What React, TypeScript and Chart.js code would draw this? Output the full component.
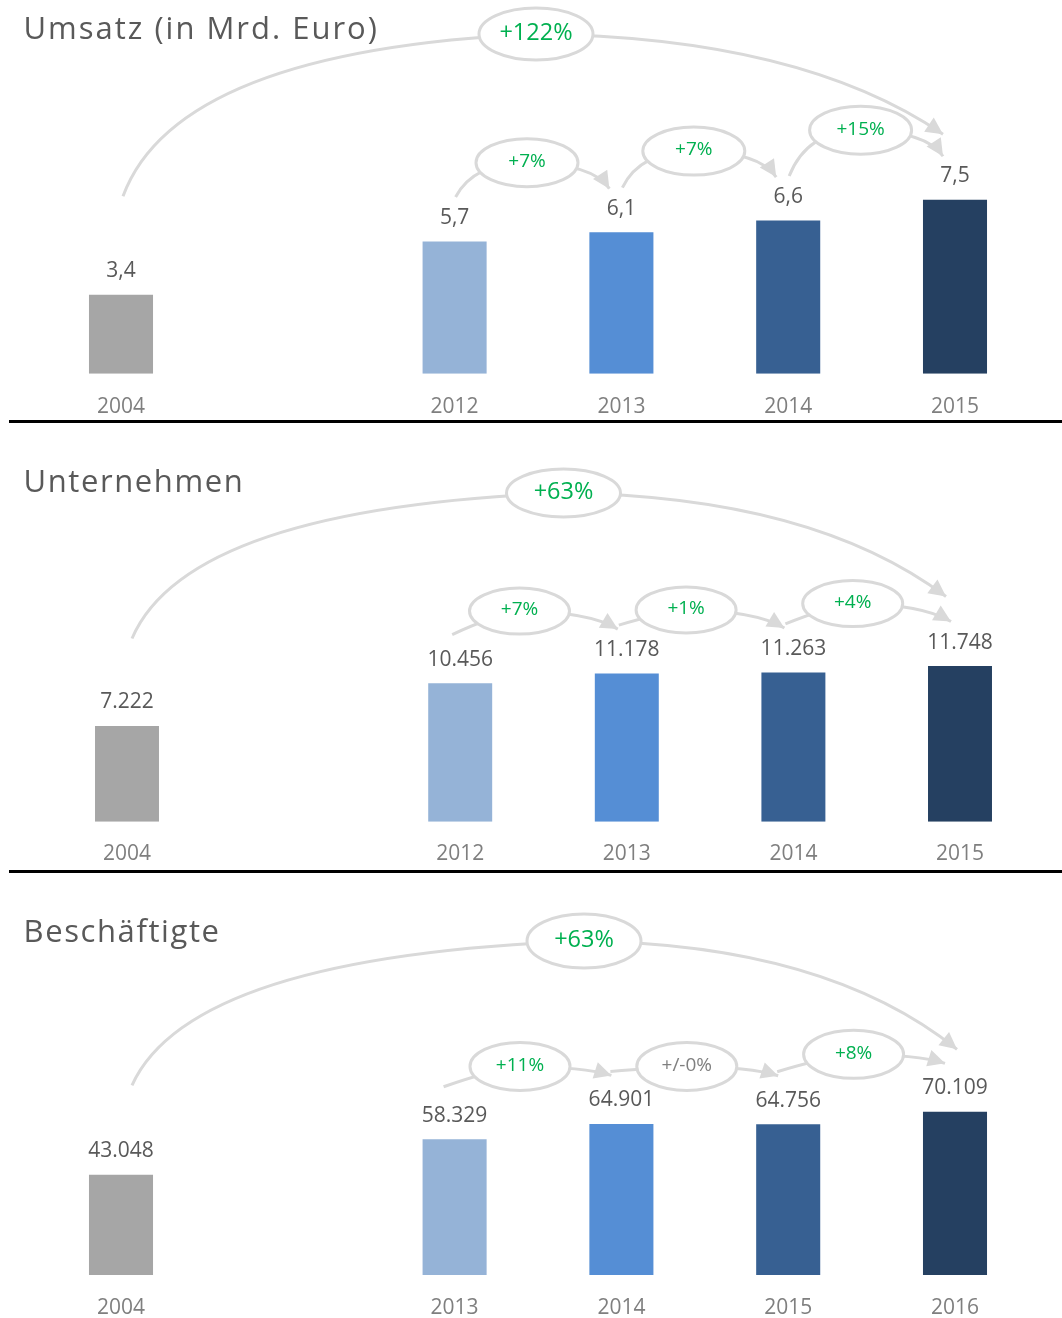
import React, { useEffect, useRef } from 'react';
import { Chart, registerables } from 'chart.js';

Chart.register(...registerables);

// ---------------- data ----------------
const UMSATZ_YEARS = ['2004', '', '2012', '2013', '2014', '2015'];
const UMSATZ_VALUES: (number | null)[] = [3.4, null, 5.7, 6.1, 6.6, 7.5];
const UMSATZ_STEP_CHANGES = ['+7%', '+7%', '+15%'];
const UMSATZ_TOTAL_CHANGE = '+122%';

const UNTERNEHMEN_YEARS = ['2004', '', '2012', '2013', '2014', '2015'];
const UNTERNEHMEN_VALUES: (number | null)[] = [7222, null, 10456, 11178, 11263, 11748];
const UNTERNEHMEN_STEP_CHANGES = ['+7%', '+1%', '+4%'];
const UNTERNEHMEN_TOTAL_CHANGE = '+63%';

const BESCHAEFTIGTE_YEARS = ['2004', '', '2013', '2014', '2015', '2016'];
const BESCHAEFTIGTE_VALUES: (number | null)[] = [43048, null, 58329, 64901, 64756, 70109];
const BESCHAEFTIGTE_STEP_CHANGES = ['+11%', '+/-0%', '+8%'];
const BESCHAEFTIGTE_TOTAL_CHANGE = '+63%';

const BAR_COLORS = ['#A6A6A6', 'rgba(0,0,0,0)', '#95B3D7', '#558ED5', '#376092', '#254061'];

// ---------------- styling ----------------
const FONT = '"Open Sans", "DejaVu Sans", sans-serif';
const ARC_COLOR = '#D9D9D9';
const GREEN = '#00B050';
const GREY_TEXT = '#7F7F7F';
const DARK_TEXT = '#595959';
const LABEL_GAP = 23.5;

interface ArcStyle {
  startDx: number; startGap: number; endDx: number; endGap: number;
  ellDx: number; rx: number; ry: number;
  leftA: number; leftB: number; rightA: number;
  lift?: number; ellY?: number; font: number;
}

interface Panel {
  title: string; titleY: number; letterSpacing: number;
  years: string[]; values: (number | null)[]; steps: string[]; total: string;
  decimals: number; yMax: number;
  top: number; height: number; padLeft: number; padRight: number; padTop: number;
  axisH: number; tickPad: number;
  small: ArcStyle; big: ArcStyle;
}

const PANELS: Panel[] = [
  {
    title: 'Umsatz (in Mrd. Euro)', titleY: 39, letterSpacing: 2,
    years: UMSATZ_YEARS, values: UMSATZ_VALUES, steps: UMSATZ_STEP_CHANGES, total: UMSATZ_TOTAL_CHANGE,
    decimals: 1, yMax: 12,
    top: 0, height: 420, padLeft: 37.6, padRight: 23.6, padTop: 95.3, axisH: 46.3, tickPad: 20.5,
    small: { startDx: 1, startGap: 21, endDx: -12, endGap: 20, ellDx: -11, lift: 46, rx: 51, ry: 24, leftA: 0.25, leftB: 0, rightA: 0.8, font: 19 },
    big: { startDx: 2, startGap: 75, endDx: -12, endGap: 42, ellDx: -2, ellY: 34, rx: 57, ry: 26, leftA: 0.13, leftB: 0.1, rightA: 0.65, font: 23.5 },
  },
  {
    title: 'Unternehmen', titleY: 71.3, letterSpacing: 1.6,
    years: UNTERNEHMEN_YEARS, values: UNTERNEHMEN_VALUES, steps: UNTERNEHMEN_STEP_CHANGES, total: UNTERNEHMEN_TOTAL_CHANGE,
    decimals: 0, yMax: 16000,
    top: 421, height: 449, padLeft: 43.7, padRight: 18.7, padTop: 188.7, axisH: 48.3, tickPad: 19.5,
    small: { startDx: -8, startGap: 25, endDx: -9, endGap: 21, ellDx: -24, lift: 39, rx: 50, ry: 23, leftA: 0.6, leftB: 0.2, rightA: 0.7, font: 19 },
    big: { startDx: 5, startGap: 64, endDx: -14, endGap: 46, ellDx: 20, ellY: 72, rx: 57, ry: 24, leftA: 0.13, leftB: 0.1, rightA: 0.65, font: 23.5 },
  },
  {
    title: 'Beschäftigte', titleY: 69.3, letterSpacing: 1.6,
    years: BESCHAEFTIGTE_YEARS, values: BESCHAEFTIGTE_VALUES, steps: BESCHAEFTIGTE_STEP_CHANGES, total: BESCHAEFTIGTE_TOTAL_CHANGE,
    decimals: 0, yMax: 80000,
    top: 873, height: 445, padLeft: 37.6, padRight: 23.6, padTop: 215.8, axisH: 43, tickPad: 20.3,
    small: { startDx: -11, startGap: 29, endDx: -10, endGap: 25, ellDx: -18, lift: 34, rx: 50, ry: 24, leftA: 0.6, leftB: 0.2, rightA: 0.7, font: 19 },
    big: { startDx: 11, startGap: 66, endDx: 2, endGap: 39, ellDx: 46, ellY: 68, rx: 57, ry: 27, leftA: 0.13, leftB: 0.1, rightA: 0.65, font: 23.5 },
  },
];

function formatDe(v: number, decimals: number): string {
  const fixed = v.toFixed(decimals);
  const parts = fixed.split('.');
  const intPart = parts[0].replace(/\B(?=(\d{3})+(?!\d))/g, '.');
  return parts[1] ? intPart + ',' + parts[1] : intPart;
}

function curveWithArrow(ctx: CanvasRenderingContext2D, x0: number, y0: number, cx: number, cy: number, x1: number, y1: number, arrow: boolean) {
  ctx.beginPath();
  ctx.moveTo(x0, y0);
  ctx.quadraticCurveTo(cx, cy, x1, y1);
  ctx.stroke();
  if (arrow) {
    const ang = Math.atan2(y1 - cy, x1 - cx);
    const L = 17, W = 8.5;
    const bx = x1 - L * Math.cos(ang), by = y1 - L * Math.sin(ang);
    const px = -Math.sin(ang) * W, py = Math.cos(ang) * W;
    ctx.beginPath();
    ctx.moveTo(x1, y1);
    ctx.lineTo(bx + px, by + py);
    ctx.lineTo(bx - px, by - py);
    ctx.closePath();
    ctx.fill();
  }
}

function makePlugin(panel: Panel) {
  return {
    id: 'panelAnnotations',
    afterDatasetsDraw(chart: any) {
      const ctx: CanvasRenderingContext2D = chart.ctx;
      const meta = chart.getDatasetMeta(0);
      ctx.save();

      // title
      ctx.font = `31px ${FONT}`;
      (ctx as any).letterSpacing = `${panel.letterSpacing}px`;
      ctx.fillStyle = DARK_TEXT;
      ctx.textAlign = 'left';
      ctx.textBaseline = 'alphabetic';
      ctx.fillText(panel.title, 23.5, panel.titleY);
      (ctx as any).letterSpacing = '0px';

      // positions of value labels
      const pts: { x: number; ly: number }[] = [];
      const idx: number[] = [];
      panel.values.forEach((v, i) => {
        if (v == null) return;
        const el = meta.data[i];
        pts[i] = { x: el.x, ly: el.y - LABEL_GAP };
        idx.push(i);
      });

      const ellipses: { x: number; y: number; rx: number; ry: number; text: string; font: number }[] = [];
      ctx.strokeStyle = ARC_COLOR;
      ctx.fillStyle = ARC_COLOR;
      ctx.lineWidth = 3;
      ctx.lineCap = 'butt';

      const drawArc = (a: number, b: number, st: ArcStyle, text: string) => {
        const A = pts[a], B = pts[b];
        const sx = A.x + st.startDx, sy = A.ly - st.startGap;
        const ex = B.x + st.endDx, ey = B.ly - st.endGap;
        const cx = (A.x + B.x) / 2 + st.ellDx;
        const cy = st.ellY != null ? st.ellY : Math.min(A.ly, B.ly) - (st.lift || 0);
        curveWithArrow(ctx, sx, sy, sx + st.leftA * (cx - sx), cy + st.leftB * (sy - cy), cx, cy, false);
        curveWithArrow(ctx, cx, cy, cx + st.rightA * (ex - cx), cy + 0.03 * (ey - cy), ex, ey, true);
        ellipses.push({ x: cx, y: cy, rx: st.rx, ry: st.ry, text, font: st.font });
      };

      // big arc from first to last
      drawArc(idx[0], idx[idx.length - 1], panel.big, panel.total);
      // step arcs
      for (let k = 1; k < idx.length - 1; k++) {
        drawArc(idx[k], idx[k + 1], panel.small, panel.steps[k - 1]);
      }

      ellipses.forEach((e) => {
        ctx.beginPath();
        ctx.ellipse(e.x, e.y, e.rx, e.ry, 0, 0, Math.PI * 2);
        ctx.fillStyle = '#FFFFFF';
        ctx.fill();
        ctx.strokeStyle = ARC_COLOR;
        ctx.lineWidth = 3;
        ctx.stroke();
        ctx.font = `${e.font}px ${FONT}`;
        ctx.fillStyle = e.text.startsWith('+/-') ? GREY_TEXT : GREEN;
        ctx.textAlign = 'center';
        ctx.textBaseline = 'middle';
        ctx.fillText(e.text, e.x, e.y - 1);
      });

      // value labels
      ctx.font = `21px ${FONT}`;
      ctx.fillStyle = DARK_TEXT;
      ctx.textAlign = 'center';
      ctx.textBaseline = 'middle';
      idx.forEach((i) => {
        ctx.fillText(formatDe(panel.values[i] as number, panel.decimals), pts[i].x, pts[i].ly);
      });

      ctx.restore();
    },
  };
}

function PanelChart({ panel }: { panel: Panel }) {
  const ref = useRef<HTMLCanvasElement | null>(null);
  useEffect(() => {
    if (!ref.current) return;
    const chart = new Chart(ref.current, {
      type: 'bar',
      data: {
        labels: panel.years,
        datasets: [{
          data: panel.values as any,
          backgroundColor: BAR_COLORS,
          barPercentage: 0.384,
          categoryPercentage: 1,
          borderWidth: 0,
        }],
      },
      options: {
        animation: false,
        responsive: false,
        maintainAspectRatio: false,
        layout: { padding: { left: panel.padLeft, right: panel.padRight, top: panel.padTop, bottom: 0 } },
        plugins: {
          legend: { display: false },
          tooltip: { enabled: false },
          title: { display: false },
        },
        scales: {
          x: {
            grid: { display: false, drawTicks: false, tickLength: 0 },
            border: { display: false },
            ticks: {
              color: GREY_TEXT,
              font: { family: FONT, size: 21, lineHeight: 1.2 },
              padding: panel.tickPad,
              maxRotation: 0,
              autoSkip: false,
            },
            afterFit: (scale: any) => { scale.height = panel.axisH; },
          },
          y: { display: false, min: 0, max: panel.yMax },
        },
      },
      plugins: [makePlugin(panel)],
    } as any);
    return () => chart.destroy();
  }, [panel]);
  return (
    <canvas
      ref={ref}
      width={1062}
      height={panel.height}
      style={{ position: 'absolute', left: 0, top: panel.top, width: 1062, height: panel.height }}
    />
  );
}

export default function App() {
  return (
    <div style={{ position: 'absolute', left: 0, top: 0, width: 1062, height: 1318, background: '#FFFFFF', overflow: 'hidden' }}>
      {PANELS.map((p, i) => <PanelChart key={i} panel={p} />)}
      <div style={{ position: 'absolute', left: 9, top: 420, width: 1053, height: 2.5, background: '#000000' }} />
      <div style={{ position: 'absolute', left: 9, top: 870, width: 1053, height: 2.5, background: '#000000' }} />
    </div>
  );
}
